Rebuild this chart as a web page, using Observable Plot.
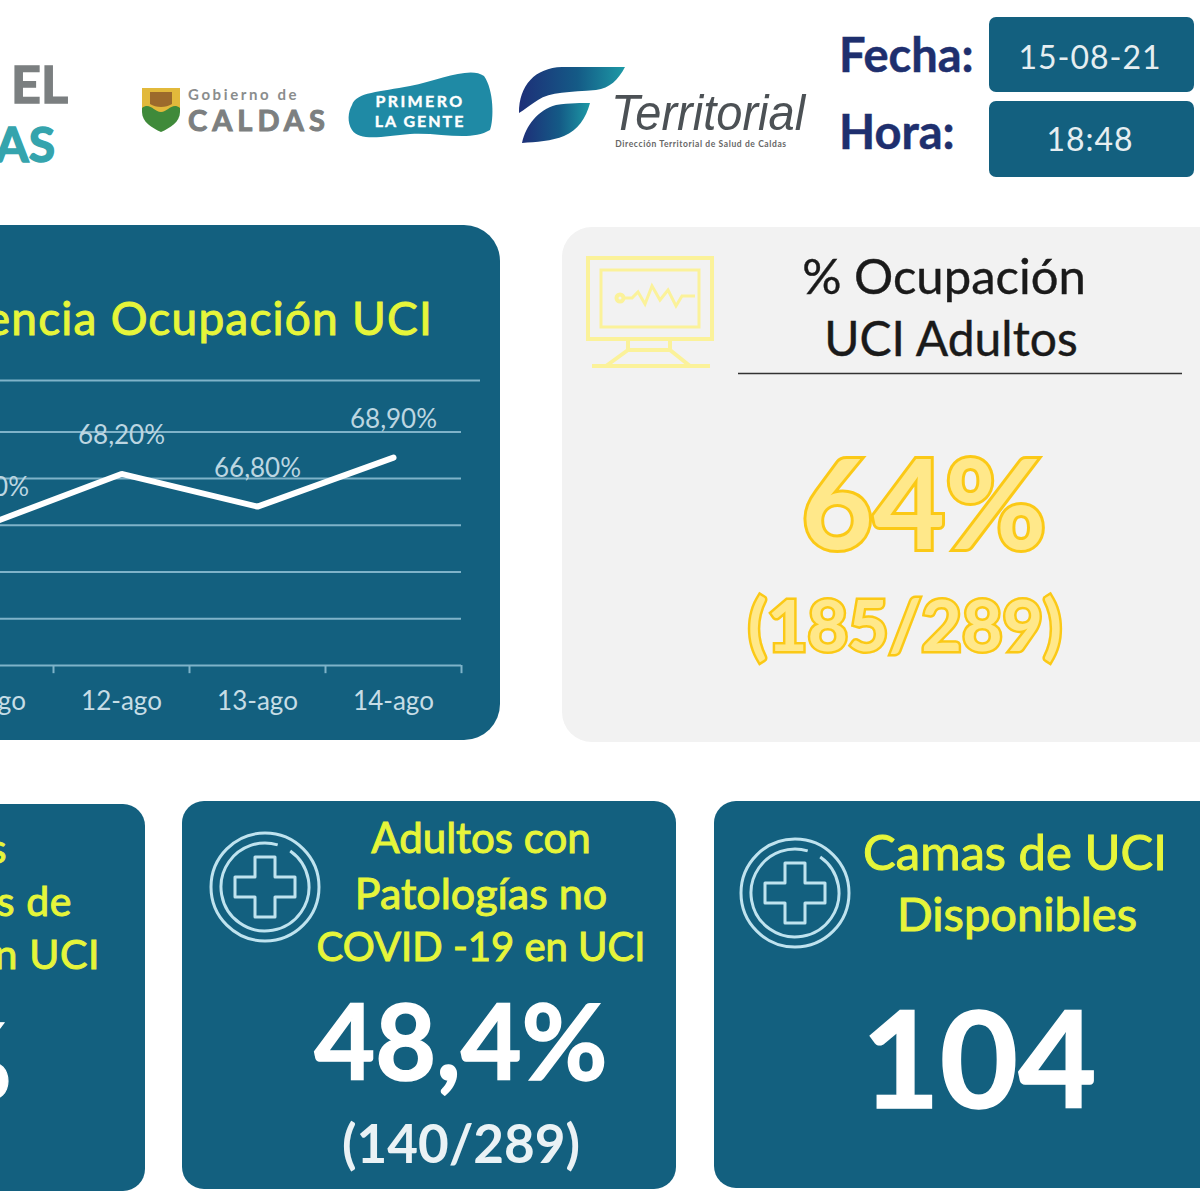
<!DOCTYPE html>
<html lang="es">
<head>
<meta charset="utf-8">
<title>Ocupación UCI Caldas</title>
<script src="https://cdn.jsdelivr.net/npm/d3@7"></script>
<script src="https://cdn.jsdelivr.net/npm/@observablehq/plot@0.6"></script>
<style>
html,body{margin:0;padding:0;background:#fff;}
#page{position:relative;width:1200px;height:1200px;overflow:hidden;background:#fff;font-family:Lato,"Open Sans",sans-serif;}
.card{position:absolute;box-sizing:border-box;}
.t{position:absolute;white-space:nowrap;line-height:1;}
svg.deco{position:absolute;left:0;top:0;pointer-events:none;}
#chart{position:absolute;left:0;top:340px;}
</style>
</head>
<body>
<div id="page">
<svg class="deco" width="1200" height="1200" viewBox="0 0 1200 1200" style="z-index:3">
  <defs>
    <linearGradient id="tg" x1="0" x2="1" y1="0" y2="0"><stop offset="0" stop-color="#1d2f78"/><stop offset=".55" stop-color="#145a86"/><stop offset="1" stop-color="#1d9aa6"/></linearGradient>
  </defs>
  <!-- Gobierno de Caldas -->
  <path d="M142 88H180V112C180 122 170 128 161 132C152 128 142 122 142 112Z" fill="#3f8a3a"/>
  <path d="M142 88H180V108C172 102 168 112 161 112C154 112 150 102 142 108Z" fill="#e2b93b"/>
  <path d="M150 92H172V104C166 108 156 108 150 104Z" fill="#9c6a2c"/>
  <!-- Primero la gente -->
  <path d="M352 105C356 92 380 92 410 86C440 80 470 66 484 76C494 90 494 120 490 130C470 142 440 132 410 134C385 136 360 142 352 130C347 122 348 112 352 105Z" fill="#1f8aa5"/>
  <!-- Territorial -->
  <path d="M519 113C519 85 535 68 562 67H625C618 80 610 88 596 90C570 92 550 92 538 100C530 105 524 110 519 113Z" fill="url(#tg)"/>
  <path d="M522 143C526 125 538 110 556 105C570 103 582 103 590 103C586 118 578 130 564 136C552 141 536 142 522 143Z" fill="url(#tg)"/>
  <!-- monitor -->
  <g fill="none" stroke="#fbf29a" stroke-width="4">
    <rect x="588" y="258" width="124" height="81"/>
    <rect x="601" y="270" width="98" height="57" stroke-width="3"/>
    <path d="M622 298H632L638 292L645 304L652 286L660 300L668 290L676 306L682 296H695" stroke-width="3"/>
    <circle cx="620" cy="298" r="3.5"/>
    <path d="M628 340V350H670V340M628 350L606 366M670 350L690 366M592 366H710"/>
  </g>
  <path d="M738 373.5H1182" stroke="#333" stroke-width="1.6"/>
  <!-- medical icons -->
  <g fill="none" stroke="#bfe3ef" stroke-width="3">
    <circle cx="265" cy="887" r="54"/>
    <circle cx="265" cy="887" r="44" stroke-dasharray="262 14" transform="rotate(-55 265 887)"/>
    <path d="M255 857H275V877H295V897H275V917H255V897H235V877H255Z" stroke-linejoin="round"/>
  </g>
  <g fill="none" stroke="#bfe3ef" stroke-width="3">
    <circle cx="795" cy="893" r="54"/>
    <circle cx="795" cy="893" r="44" stroke-dasharray="262 14" transform="rotate(-55 795 893)"/>
    <path d="M785 863H805V883H825V903H805V923H785V903H765V883H785Z" stroke-linejoin="round"/>
  </g>
</svg>
<div id="chart" style="z-index:2"></div>
</div>
<script>
// ---- Datos ----
const dias = ["11-ago", "12-ago", "13-ago", "14-ago"];
const ocupacion = [66.0, 68.2, 66.8, 68.9];
const rejilla = [60, 62, 64, 66, 68, 70];
const rejillaSuperior = [72.2];

const fecha = "15-08-21";
const hora = "18:48";
const tituloTendencia = "Tendencia Ocupación UCI";
const ocupacionAdultos = "64%";
const ocupacionDetalle = "(185/289)";
const noCovidPct = "48,4%";
const noCovidDetalle = "(140/289)";
const camasDisponibles = "104";

// ---- Diseño HTML ----
const page = document.getElementById("page");
function card(x, y, w, h, r, bg){
  const d = document.createElement("div");
  d.className = "card";
  d.style.cssText = `left:${x}px;top:${y}px;width:${w}px;height:${h}px;border-radius:${r}px;background:${bg};`;
  page.insertBefore(d, page.firstChild);
}
function t(txt, x, y, size, o = {}){
  const d = document.createElement("div");
  d.className = "t";
  d.textContent = txt;
  const tx = o.a === "l" ? "0" : o.a === "r" ? "-100%" : "-50%";
  d.style.cssText = `left:${x}px;top:${y}px;font-size:${size}px;transform:translate(${tx},-50%)${o.sx ? ` scaleX(${o.sx})` : ""};color:${o.c || "#000"};font-weight:${o.w || 400};z-index:4;` +
    (o.s ? `-webkit-text-stroke:${o.s};paint-order:stroke fill;` : "") + (o.i ? "font-style:italic;" : "") + (o.f ? `font-family:${o.f};` : "") + (o.ls ? `letter-spacing:${o.ls}px;` : "");
  page.appendChild(d);
}
const azul = "#13607f", amar = "#e6f53a", trazo = "1px #e6f53a";
card(-40, 225, 540, 515, 36, azul);
card(562, 227, 680, 515, 30, "#f2f2f2");
card(-40, 804, 185, 387, 22, azul);
card(182, 801, 494, 388, 22, azul);
card(714, 801, 530, 387, 22, azul);
card(989, 17, 205, 75, 7, azul);
card(989, 101, 205, 76, 7, azul);

// cabecera
t("EL", 68, 83, 52, {a:"r", c:"#7b7f80", w:700, s:"1.5px #7b7f80"});
t("AS", 55, 144, 48, {a:"r", c:"#35a4ad", w:700, s:"1.5px #35a4ad"});
t("Gobierno de", 188, 94, 15, {a:"l", c:"#8a8d8d", w:700, ls:2.6});
t("CALDAS", 188, 119, 29, {a:"l", c:"#7c7f80", w:700, s:"1px #7c7f80", ls:5});
t("PRIMERO", 420, 101, 16, {c:"#fff", w:700, s:".4px #fff", ls:2.4});
t("LA GENTE", 420, 121, 16, {c:"#fff", w:700, s:".4px #fff", ls:2});
t("Territorial", 708, 113, 50, {c:"#4c5155", i:1, f:"'Liberation Sans'", sx:.94});
t("Dirección Territorial de Salud de Caldas", 701, 144, 8.5, {c:"#666", w:700, ls:.6});
t("Fecha:", 839, 54, 47, {a:"l", c:"#1e2f6e", w:700, s:".5px #1e2f6e"});
t("Hora:", 839, 131, 47, {a:"l", c:"#1e2f6e", w:700, s:".5px #1e2f6e"});
t(fecha, 1090, 57, 32, {c:"#e6eef1", ls:1});
t(hora, 1090, 139, 32, {c:"#e6eef1", ls:1});

// tarjeta de tendencia
t(tituloTendencia, 433, 318, 46, {a:"r", c:amar, s:trazo, ls:1.2});

// tarjeta de ocupación
t("% Ocupación", 944, 275, 49, {c:"#1a1a1a", s:".4px #1a1a1a"});
t("UCI Adultos", 951, 338, 48, {c:"#1a1a1a", s:".4px #1a1a1a"});
t(ocupacionAdultos, 924, 501, 124, {c:"#ffe88a", w:700, s:"6px #fbc916"});
t(ocupacionDetalle, 905, 624, 70, {c:"#ffe88a", w:700, s:"5px #fbc916"});

// tarjetas inferiores
t("Adultos", 7, 847, 41, {a:"r", c:amar, s:trazo, ls:.6});
t("Patologías de", 72, 900, 41, {a:"r", c:amar, s:trazo, ls:.6});
t("COVID -19 en UCI", 100, 953, 41, {a:"r", c:amar, s:trazo, ls:.6});
t("%", 12, 1058, 105, {a:"r", c:"#fff", w:700, s:"1px #fff"});

t("Adultos con", 481, 837, 42, {c:amar, s:trazo});
t("Patologías no", 481, 892, 43, {c:amar, s:trazo});
t("COVID -19 en UCI", 481, 946, 40, {c:amar, s:trazo});
t(noCovidPct, 461, 1039, 105, {c:"#fff", w:700, s:"1.5px #fff"});
t(noCovidDetalle, 461, 1142, 53, {c:"#eaf2f5", w:700});

t("Camas de UCI", 1015, 851, 49, {c:amar, s:trazo});
t("Disponibles", 1017, 913, 47, {c:amar, s:trazo});
t(camasDisponibles, 979, 1056, 135, {c:"#fff", w:700, s:"1.5px #fff"});

// ---- Gráfico ----
const filas = dias.map((d, i) => ({dia: d, valor: ocupacion[i]}));
const etiqueta = v => v.toFixed(2).replace(".", ",") + "%";
const colorRejilla = "#7fb3c9";

const plot = Plot.plot({
  width: 500,
  height: 420,
  marginTop: 0, marginLeft: 0, marginRight: 39, marginBottom: 95,
  style: {background: "transparent", fontFamily: "Lato, sans-serif"},
  x: {type: "band", domain: dias, range: [-83, 461], padding: 0, label: null},
  y: {domain: [60, 72.2], range: [325, 40], label: null},
  marks: [
    Plot.ruleY(rejilla, {stroke: colorRejilla, strokeWidth: 2}),
    Plot.ruleY(rejillaSuperior, {stroke: colorRejilla, strokeWidth: 2, insetRight: -19}),
    Plot.ruleX(dias, {x: d => d, dx: 68, y1: 60, y2: 59.65, stroke: colorRejilla, strokeWidth: 2}),
    Plot.line(filas, {x: "dia", y: "valor", stroke: "#fff", strokeWidth: 6, strokeLinejoin: "miter", curve: "linear"}),
    Plot.text(filas, {x: "dia", y: "valor", text: d => etiqueta(d.valor), dy: -38, fill: "#bcd6e1", fontSize: 26}),
    Plot.axisX({anchor: "bottom", tickSize: 0, tickPadding: 26, fontSize: 26, fill: "#c6dde6", label: null}),
    Plot.axisY({ticks: [], label: null, tickSize: 0})
  ]
});
document.getElementById("chart").appendChild(plot);
</script>
</body>
</html>
